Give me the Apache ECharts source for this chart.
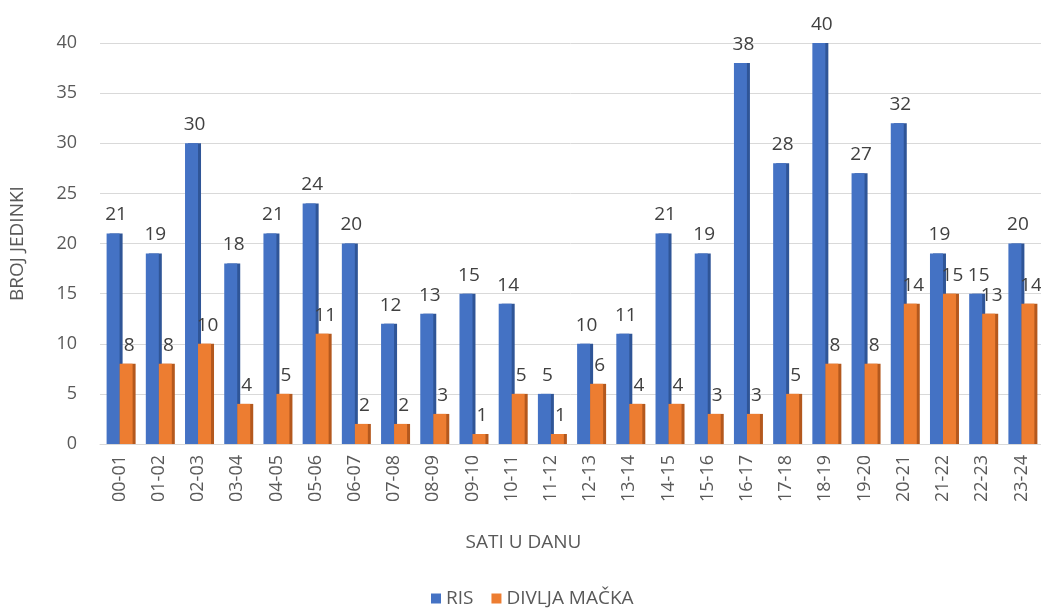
<!DOCTYPE html>
<html>
<head>
<meta charset="utf-8">
<script src="https://cdn.jsdelivr.net/npm/echarts@6/dist/echarts.min.js"></script>
<style>
  html, body { margin: 0; padding: 0; background: #fff; }
  #chart { width: 1041px; height: 613px; }
</style>
</head>
<body>
<div id="chart"></div>
<script>
// sati u danu
var hours = ["00-01", "01-02", "02-03", "03-04", "04-05", "05-06", "06-07", "07-08",
  "08-09", "09-10", "10-11", "11-12", "12-13", "13-14", "14-15", "15-16",
  "16-17", "17-18", "18-19", "19-20", "20-21", "21-22", "22-23", "23-24"];
var ris = [21, 19, 30, 18, 21, 24, 20, 12, 13, 15, 14, 5, 10, 11, 21, 19, 38, 28, 40, 27, 32, 19, 15, 20];
var macka = [8, 8, 10, 4, 5, 11, 2, 2, 3, 1, 5, 1, 6, 4, 4, 3, 3, 5, 8, 8, 14, 15, 13, 14];

var font = "'Open Sans', 'Liberation Sans', sans-serif";
var chart = echarts.init(document.getElementById("chart"));

function barSeries(name, data, color, side) {
  return {
    name: name,
    type: "bar",
    data: data,
    barWidth: 13,
    barGap: "0%",
    itemStyle: {
      color: color,
      shadowColor: side,
      shadowOffsetX: 3,
      shadowOffsetY: 0,
      shadowBlur: 0
    },
    label: {
      show: true,
      position: "top",
      distance: 9,
      offset: [3, 0],
      color: "#404040",
      fontSize: 19,
      fontFamily: font
    }
  };
}

chart.setOption({
  animation: false,
  textStyle: { fontFamily: font },
  grid: { left: 100, right: -4, top: 43, bottom: 169, containLabel: false },
  legend: {
    bottom: 0,
    left: 426,
    itemWidth: 10,
    itemHeight: 10,
    itemGap: 18,
    icon: "rect",
    textStyle: { color: "#595959", fontSize: 19, fontFamily: font },
    data: ["RIS", "DIVLJA MAČKA"]
  },
  xAxis: {
    type: "category",
    data: hours,
    name: "SATI U DANU",
    nameLocation: "middle",
    nameGap: 89,
    nameTextStyle: { color: "#595959", fontSize: 19, fontFamily: font, padding: [0, 94, 0, 0] },
    axisLine: { show: true, lineStyle: { color: "#d9d9d9" } },
    axisTick: { show: false },
    axisLabel: { rotate: 90, color: "#595959", fontSize: 18, margin: 11, fontFamily: font }
  },
  yAxis: {
    type: "value",
    min: 0,
    max: 40,
    interval: 5,
    name: "BROJ JEDINKI",
    nameLocation: "middle",
    nameGap: 73,
    nameTextStyle: { color: "#595959", fontSize: 19, fontFamily: font },
    axisLine: { show: false },
    axisTick: { show: false },
    axisLabel: { color: "#595959", fontSize: 18, margin: 23, fontFamily: font },
    splitLine: { lineStyle: { color: "#d9d9d9", width: 1 } }
  },
  series: [
    barSeries("RIS", ris, "#4472c4", "#2f5597"),
    barSeries("DIVLJA MAČKA", macka, "#ed7d31", "#b4581d")
  ]
});
</script>
</body>
</html>
